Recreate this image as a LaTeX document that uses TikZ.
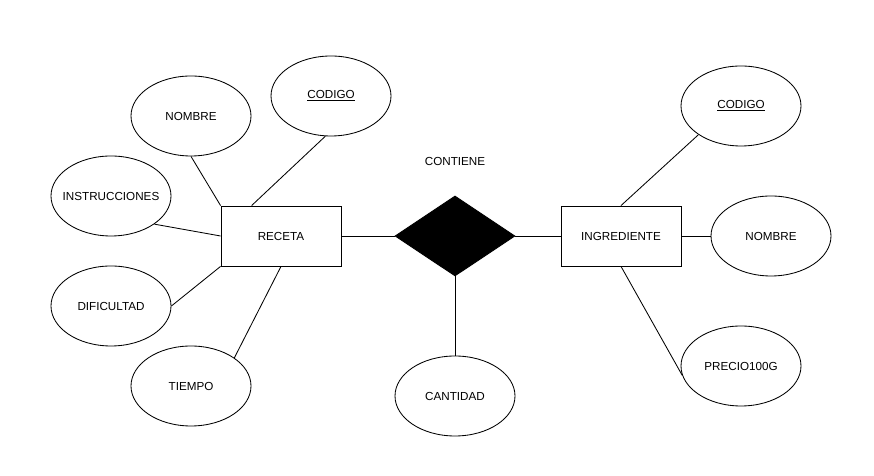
\documentclass[tikz,border=0pt]{standalone}
\usepackage{fontspec}
\setmainfont{Liberation Sans}
\usetikzlibrary{shapes.geometric}
\begin{document}
\begin{tikzpicture}[every path/.style={line width=0.6pt},every node/.style={font=\fontsize{8.3}{10}\selectfont},
		atrib/.style={draw,ellipse,minimum width=3cm,minimum height=2cm,inner sep=0pt},
		entidad/.style={draw,rectangle,minimum width=3cm,minimum height=1.5cm,inner sep=0pt},
		relacion/.style={draw,diamond,fill=black,minimum width=3cm,minimum height=2cm,inner sep=0pt}]
		\useasboundingbox (-0.025,0) rectangle (21.825,11.9);
		\node[entidad] (receta) at (7,6) {RECETA};
		\node[atrib] (nombre-rec) at (4.75,9) {NOMBRE};
		\node[atrib] (codigo-rec) at (8.25,9.5) {\underline{CODIGO}};
		\node[atrib,inner xsep=-6pt] (instrucciones) at (2.75,7) {INSTRUCCIONES};
		\node[atrib] (dificultad) at (2.75,4.25) {DIFICULTAD};
		\node[atrib] (tiempo) at (4.75,2.25) {TIEMPO};
		\node (contiene-label) at (11.35,7.875) {CONTIENE};
		\node[relacion] (contiene) at (11.35,6) {};
		\node[atrib] (cantidad) at (11.35,2) {CANTIDAD};
		\node[entidad] (ingrediente) at (15.5,6) {INGREDIENTE};
		\node[atrib] (codigo-ing) at (18.5,9.25) {\underline{CODIGO}};
		\node[atrib] (nombre-ing) at (19.25,6) {NOMBRE};
		\node[atrib] (precio) at (18.5,2.75) {PRECIO100G};
		
		\draw (nombre-rec.south) edge (receta.north west);
		\draw (codigo-rec.-98) edge (receta.134);
		\draw (instrucciones.-33) edge (receta.west);
		\draw (dificultad.east) edge (receta.south west);
		\draw (tiempo.33) edge (receta.south);
		\draw (receta.east) edge (contiene.west);
		\draw (contiene.east) edge (ingrediente.west);
		\draw (contiene.south) edge (cantidad.north);
		\draw (ingrediente.north) edge (codigo-ing.-146);
		\draw (ingrediente.east) edge (nombre-ing.west);
		\draw (ingrediente.south) edge (precio.189);
	\end{tikzpicture}
\end{document}
